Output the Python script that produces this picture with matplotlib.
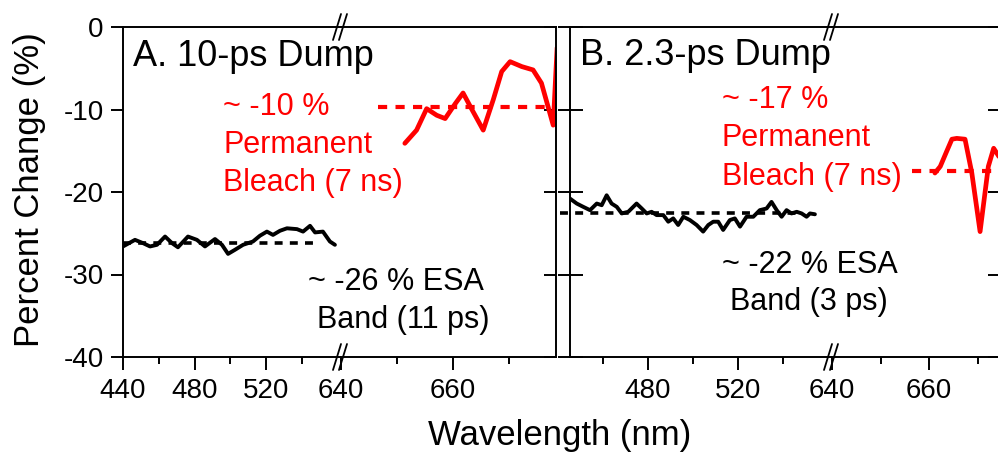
import matplotlib
matplotlib.use("Agg")
import matplotlib.pyplot as plt

# panel A, ESA band (black) 440-560 nm
a_esa_wl = [440, 446.7, 451.2, 455.1, 459, 463.5, 467.4, 470.7, 476.3, 481.3, 485.8,
            491.4, 495.3, 498.7, 502.6, 507.1, 512.6, 516.5, 520.4, 523.8, 527.7,
            531.6, 537.2, 540.6, 544.5, 547.3, 551.7, 555.6, 558.4]
a_esa_pc = [-26.6, -25.8, -26.2, -26.6, -26.4, -25.4, -26.2, -26.7, -25.4, -25.8, -26.6,
            -25.7, -26.4, -27.5, -27.0, -26.4, -26.0, -25.3, -24.8, -25.2, -24.7,
            -24.4, -24.5, -24.8, -24.1, -24.9, -24.8, -26.0, -26.4]
a_esa_fit = -26.2

# panel A, bleach (red) 640-680 nm
a_bl_wl = [651.4, 653.5, 655.3, 657.1, 658.6, 660.4, 661.8, 663.3, 665.4, 667.2,
           668.7, 670.2, 672.3, 674.3, 675.8, 677.0, 677.9, 678.6]
a_bl_pc = [-14.1, -12.5, -9.9, -10.7, -11.1, -9.3, -8.0, -9.9, -12.5, -8.8,
           -5.4, -4.2, -4.8, -5.2, -6.8, -9.7, -11.9, -2.5]
a_bl_fit = -9.7

# panel B, ESA band
b_esa_wl = [445.3, 448.3, 451.2, 454.2, 457.2, 459.4, 461.6, 463.8, 466.1, 468.3, 471.2,
            474.9, 477.2, 479.4, 481.6, 483.8, 486.8, 489, 491.2, 493.4, 495.7, 498.6,
            501.6, 504.5, 506.8, 509, 511.2, 513.4, 516.4, 518.6, 520.9, 523.8, 526.8,
            529.7, 532.7, 534.9, 537.2, 539.4, 541.6, 543.8, 546.1, 548.3, 550.5, 552,
            554.2]
b_esa_pc = [-20.8, -21.4, -21.8, -22.2, -21.4, -21.6, -20.4, -21.4, -21.8, -22.6, -22.4,
            -21.4, -22.0, -22.6, -22.4, -22.8, -22.8, -23.6, -23.2, -24.0, -23.0, -23.4,
            -24.0, -24.8, -24.0, -23.6, -23.6, -24.6, -23.4, -23.2, -24.2, -23.0, -23.0,
            -22.2, -22.0, -21.2, -22.2, -23.0, -22.2, -22.6, -22.4, -22.6, -23.0, -22.6,
            -22.7]
b_esa_fit = -22.6

# panel B, bleach
b_bl_wl = [661.2, 662.3, 663.6, 664.7, 665.7, 667.4, 668.8, 670.5, 672.2, 673.3, 674.6]
b_bl_pc = [-17.7, -16.9, -15.1, -13.6, -13.5, -13.6, -17.7, -24.8, -16.9, -14.7, -15.9]
b_bl_fit = -17.5

RED = "#ff0000"
W, H = 998, 454
FONT = "Liberation Sans"
plt.rcParams.update({
    "font.family": FONT,
    "axes.unicode_minus": False,
    "axes.linewidth": 1.4,
    "xtick.major.width": 1.4, "ytick.major.width": 1.4,
    "xtick.minor.width": 1.4, "ytick.minor.width": 1.4,
    "xtick.major.size": 9, "ytick.major.size": 9,
    "xtick.minor.size": 5,
    "xtick.labelsize": 20, "ytick.labelsize": 20,
    "lines.solid_joinstyle": "round", "lines.solid_capstyle": "round",
})

fig = plt.figure(figsize=(W / 100, H / 100), dpi=100)


def box(x0, x1, top=27, bot=357):
    return fig.add_axes([x0 / W, 1 - bot / H, (x1 - x0) / W, (bot - top) / H])


def seg_pair(x0, xb, x1, lim1, lim2, maj1, min1, first):
    left = box(x0, xb)
    right = box(xb, x1)
    for ax in (left, right):
        ax.set_ylim(-40, 0)
        ax.set_yticks([0, -10, -20, -30, -40])
    left.set_xlim(*lim1)
    right.set_xlim(*lim2)
    left.set_xticks(maj1)
    left.set_xticks(min1, minor=True)
    right.set_xticks([640, 660])
    right.set_xticks([650, 670], minor=True)
    left.spines["right"].set_visible(False)
    right.spines["left"].set_visible(False)
    left.tick_params(axis="x", direction="out", pad=6)
    right.tick_params(axis="x", direction="out", pad=6)
    if first:
        left.tick_params(axis="y", direction="out", pad=5)
    else:
        left.tick_params(axis="y", direction="inout", length=18, labelleft=False)
    right.tick_params(axis="y", left=False, right=True, direction="in", labelleft=False)
    # break marks
    wpx = x1 - xb
    hpx = 357 - 27
    for y in (0, 1):
        for dx in (-4, 2):
            right.plot([(dx - 4) / wpx, (dx + 4) / wpx], [y - 13 / hpx, y + 13 / hpx],
                       transform=right.transAxes, color="k", lw=1.3, clip_on=False)
    return left, right


a1, a2 = seg_pair(123, 341, 556, (440, 561.8), (640, 678.4),
                  [440, 480, 520], [460, 500, 540], True)
b1, b2 = seg_pair(570, 832, 999.5, (445.3, 561.8), (640, 674.5),
                  [480, 520], [460, 500, 540], False)

DASH = (0, (2.2, 2))

# panel A traces
a1.plot(a_esa_wl, a_esa_pc, color="k", lw=2.8)
a1.plot([440, 547.5], [a_esa_fit] * 2, color="k", lw=2.6, ls=DASH)
a2.plot(a_bl_wl, a_bl_pc, color=RED, lw=3.4)
a2.plot([646.6, 678.4], [a_bl_fit] * 2, color=RED, lw=3.0, ls=DASH)

# panel B traces
b1.plot(b_esa_wl, b_esa_pc, color="k", lw=2.8)
b1.plot([440.8, 547.5], [b_esa_fit] * 2, color="k", lw=2.6, ls=DASH, clip_on=False)
b2.plot(b_bl_wl, b_bl_pc, color=RED, lw=3.4)
b2.plot([656.5, 674.5], [b_bl_fit] * 2, color=RED, lw=3.0, ls=DASH)


def txt(x, y, s, size=22, color="k", **kw):
    fig.text(x / W, 1 - y / H, s, fontsize=size, color=color, va="baseline", **kw)


txt(133, 66, "A. 10-ps Dump", size=26)
txt(580, 65, "B. 2.3-ps Dump", size=26)

txt(223, 115, "~ -10 %", color=RED)
txt(223, 153, "Permanent", color=RED)
txt(223, 191, "Bleach (7 ns)", color=RED)
txt(308, 290, "~ -26 % ESA")
txt(317, 328, "Band (11 ps)")

txt(722, 108, "~ -17 %", color=RED)
txt(722, 146, "Permanent", color=RED)
txt(722, 185, "Bleach (7 ns)", color=RED)
txt(722, 273, "~ -22 % ESA")
txt(730, 310, "Band (3 ps)")

fig.text(30 / W, 1 - 190 / H, "Percent Change (%)", fontsize=25, rotation=90,
         ha="center", va="center")
fig.text(560 / W, 1 - 435 / H, "Wavelength (nm)", fontsize=25, ha="center", va="center")

fig.savefig("out.png", dpi=100)
